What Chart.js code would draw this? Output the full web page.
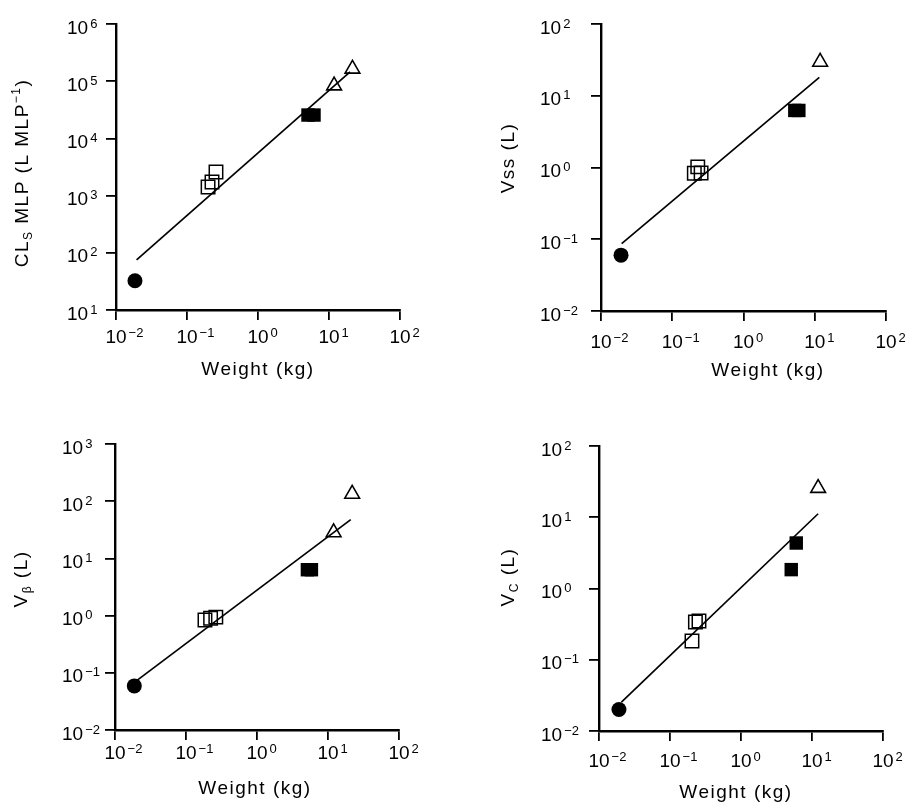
<!DOCTYPE html>
<html>
<head>
<meta charset="utf-8">
<script src="https://cdn.jsdelivr.net/npm/chart.js@4.4.1/dist/chart.umd.min.js"></script>
<style>
  html, body { margin: 0; padding: 0; background: #fff; }
  #wrap { position: relative; width: 911px; height: 804px; }
  #wrap canvas { position: absolute; left: 0; top: 0; }
</style>
</head>
<body>
<div id="wrap">
  <canvas id="c-cl" width="911" height="804"></canvas>
  <canvas id="c-vss" width="911" height="804"></canvas>
  <canvas id="c-vb" width="911" height="804"></canvas>
  <canvas id="c-vc" width="911" height="804"></canvas>
</div>
<script>
// tick decades (exponents of 10)
var weightDecades = [-2, -1, 0, 1, 2];
var clDecades = [1, 2, 3, 4, 5, 6];
var vssDecades = [-2, -1, 0, 1, 2];
var vbDecades = [-2, -1, 0, 1, 2, 3];
var vcDecades = [-2, -1, 0, 1, 2];

// [weight kg, value] — CLs MLP
var clCircle = [[0.0185, 32.5]];
var clOpen = [[0.198, 1410], [0.225, 1730], [0.256, 2590]];
var clFilled = [[5.06, 25600], [6.15, 25600]];
var clTriangle = [[11.8, 83700], [21.4, 164000]];
var clFit = [[0.0195, 75], [19.8, 146000]];

// Vss
var vssCircle = [[0.0191, 0.060]];
var vssOpen = [[0.204, 0.83], [0.228, 1.02], [0.254, 0.84]];
var vssFilled = [[5.25, 6.24], [5.98, 6.24]];
var vssTriangle = [[11.9, 29.6]];
var vssFit = [[0.0195, 0.087], [11.6, 18]];

// V beta
var vbCircle = [[0.0187, 0.059]];
var vbOpen = [[0.185, 0.84], [0.222, 0.90], [0.263, 0.94]];
var vbFilled = [[5.13, 6.34], [5.84, 6.34]];
var vbTriangle = [[12.0, 28.4], [21.9, 134]];
var vbFit = [[0.0202, 0.073], [20.9, 47.6]];

// Vc
var vcCircle = [[0.0191, 0.020]];
var vcOpen = [[0.204, 0.183], [0.228, 0.339], [0.256, 0.35]];
var vcFilled = [[6.0, 4.35], [5.1, 1.84]];
var vcTriangle = [[12.2, 25.6]];
var vcFit = [[0.0207, 0.0255], [12.2, 11.2]];

var FONT = '"Liberation Sans", Arial, Helvetica, sans-serif';
var W = 911, H = 804;

function pts(arr) {
  return arr.map(function (p) { return { x: p[0], y: p[1] }; });
}

function decadeTicks(list) {
  return function (scale) {
    scale.ticks = list.map(function (e) { return { value: Math.pow(10, e) }; });
  };
}

// "10" with superscript exponent
function drawPow(ctx, x, midY, e, align) {
  var base = '10';
  var exp = e < 0 ? '\u2212' + (-e) : String(e);
  ctx.font = '19px ' + FONT;
  var w1 = ctx.measureText(base).width;
  var start = align === 'center' ? x - w1 / 2 : x;
  var baseline = midY + 7;
  ctx.textAlign = 'left';
  ctx.textBaseline = 'alphabetic';
  ctx.fillText(base, start, baseline);
  ctx.font = '13px ' + FONT;
  ctx.fillText(exp, start + w1 + 2, baseline - 6);
}

// runs: [{t, sub, sup}]
function drawRuns(ctx, runs, cx, cy, rotate) {
  ctx.save();
  ctx.translate(cx, cy);
  if (rotate) ctx.rotate(-Math.PI / 2);
  ctx.letterSpacing = '1.5px';
  ctx.textAlign = 'left';
  ctx.textBaseline = 'alphabetic';
  var total = 0;
  runs.forEach(function (r) {
    ctx.font = (r.sub || r.sup ? '12px ' : '19px ') + FONT;
    r.w = ctx.measureText(r.t).width;
    total += r.w;
  });
  var x = -total / 2;
  runs.forEach(function (r) {
    ctx.font = (r.sub || r.sup ? '12px ' : '19px ') + FONT;
    var dy = 7;
    if (r.sub) dy = 11;
    if (r.sup) dy = -1;
    ctx.fillText(r.t, x, dy);
    x += r.w;
  });
  ctx.restore();
}

function makePanel(id, p) {
  var labels = {
    id: 'labels-' + id,
    afterDraw: function (chart) {
      var ctx = chart.ctx;
      var xs = chart.scales.x, ys = chart.scales.y;
      ctx.save();
      ctx.fillStyle = '#000';
      p.xDec.forEach(function (e) {
        drawPow(ctx, xs.getPixelForValue(Math.pow(10, e)), p.xLabY, e, 'center');
      });
      p.yDec.forEach(function (e) {
        drawPow(ctx, p.yLabX, ys.getPixelForValue(Math.pow(10, e)) + 2.5, e, 'left');
      });
      drawRuns(ctx, p.yTitle, p.yTitlePos[0], p.yTitlePos[1], true);
      drawRuns(ctx, [{ t: 'Weight (kg)' }], p.xTitlePos[0], p.xTitlePos[1], false);
      ctx.restore();
    }
  };

  var axisCommon = {
    type: 'logarithmic',
    ticks: { display: false },
    grid: { drawOnChartArea: false, drawTicks: true, tickLength: 10, color: '#000', lineWidth: 1.8 },
    border: { display: true, color: '#000', width: 2.4 }
  };

  new Chart(document.getElementById(id), {
    type: 'scatter',
    data: {
      datasets: [
        { data: pts(p.circle), pointStyle: 'circle', pointRadius: 7.5, backgroundColor: '#000', borderColor: '#000', borderWidth: 0 },
        { data: pts(p.open), pointStyle: 'rect', pointRadius: 9.5, backgroundColor: 'rgba(0,0,0,0)', borderColor: '#000', borderWidth: 1.5 },
        { data: pts(p.filled), pointStyle: 'rect', pointRadius: 9.5, backgroundColor: '#000', borderColor: '#000', borderWidth: 0 },
        { data: pts(p.triangle), pointStyle: 'triangle', pointRadius: 8.5, backgroundColor: 'rgba(0,0,0,0)', borderColor: '#000', borderWidth: 1.6 },
        { data: pts(p.fit), showLine: true, borderColor: '#000', borderWidth: 1.7, pointRadius: 0 }
      ]
    },
    options: {
      responsive: false,
      animation: false,
      events: [],
      plugins: { legend: { display: false }, tooltip: { enabled: false } },
      layout: { padding: { left: 0, top: p.top, right: W - p.right, bottom: 0 } },
      scales: {
        x: Object.assign({}, axisCommon, {
          min: 0.01, max: 100,
          afterBuildTicks: decadeTicks(p.xDec),
          afterFit: function (s) { s.height = H - p.bottom; }
        }),
        y: Object.assign({}, axisCommon, {
          min: Math.pow(10, p.yDec[0]), max: Math.pow(10, p.yDec[p.yDec.length - 1]),
          afterBuildTicks: decadeTicks(p.yDec),
          afterFit: function (s) { s.width = p.left; }
        })
      }
    },
    plugins: [labels]
  });
}

makePanel('c-cl', {
  left: 116, right: 400, top: 24, bottom: 310,
  xDec: weightDecades, yDec: clDecades,
  circle: clCircle, open: clOpen, filled: clFilled, triangle: clTriangle, fit: clFit,
  xLabY: 336, yLabX: 67,
  yTitle: [{ t: 'CL' }, { t: 'S', sub: true }, { t: ' MLP (L MLP' }, { t: '\u22121', sup: true }, { t: ')' }],
  yTitlePos: [21, 173], xTitlePos: [258, 368]
});

makePanel('c-vss', {
  left: 601, right: 886, top: 24, bottom: 311,
  xDec: weightDecades, yDec: vssDecades,
  circle: vssCircle, open: vssOpen, filled: vssFilled, triangle: vssTriangle, fit: vssFit,
  xLabY: 341, yLabX: 540,
  yTitle: [{ t: 'Vss (L)' }],
  yTitlePos: [507, 158], xTitlePos: [768, 369]
});

makePanel('c-vb', {
  left: 115, right: 399, top: 444, bottom: 730,
  xDec: weightDecades, yDec: vbDecades,
  circle: vbCircle, open: vbOpen, filled: vbFilled, triangle: vbTriangle, fit: vbFit,
  xLabY: 752, yLabX: 62,
  yTitle: [{ t: 'V' }, { t: '\u03B2', sub: true }, { t: ' (L)' }],
  yTitlePos: [20, 579], xTitlePos: [255, 787]
});

makePanel('c-vc', {
  left: 599, right: 883, top: 446, bottom: 731,
  xDec: weightDecades, yDec: vcDecades,
  circle: vcCircle, open: vcOpen, filled: vcFilled, triangle: vcTriangle, fit: vcFit,
  xLabY: 760, yLabX: 541,
  yTitle: [{ t: 'V' }, { t: 'C', sub: true }, { t: ' (L)' }],
  yTitlePos: [507, 577], xTitlePos: [736, 791]
});
</script>
</body>
</html>
